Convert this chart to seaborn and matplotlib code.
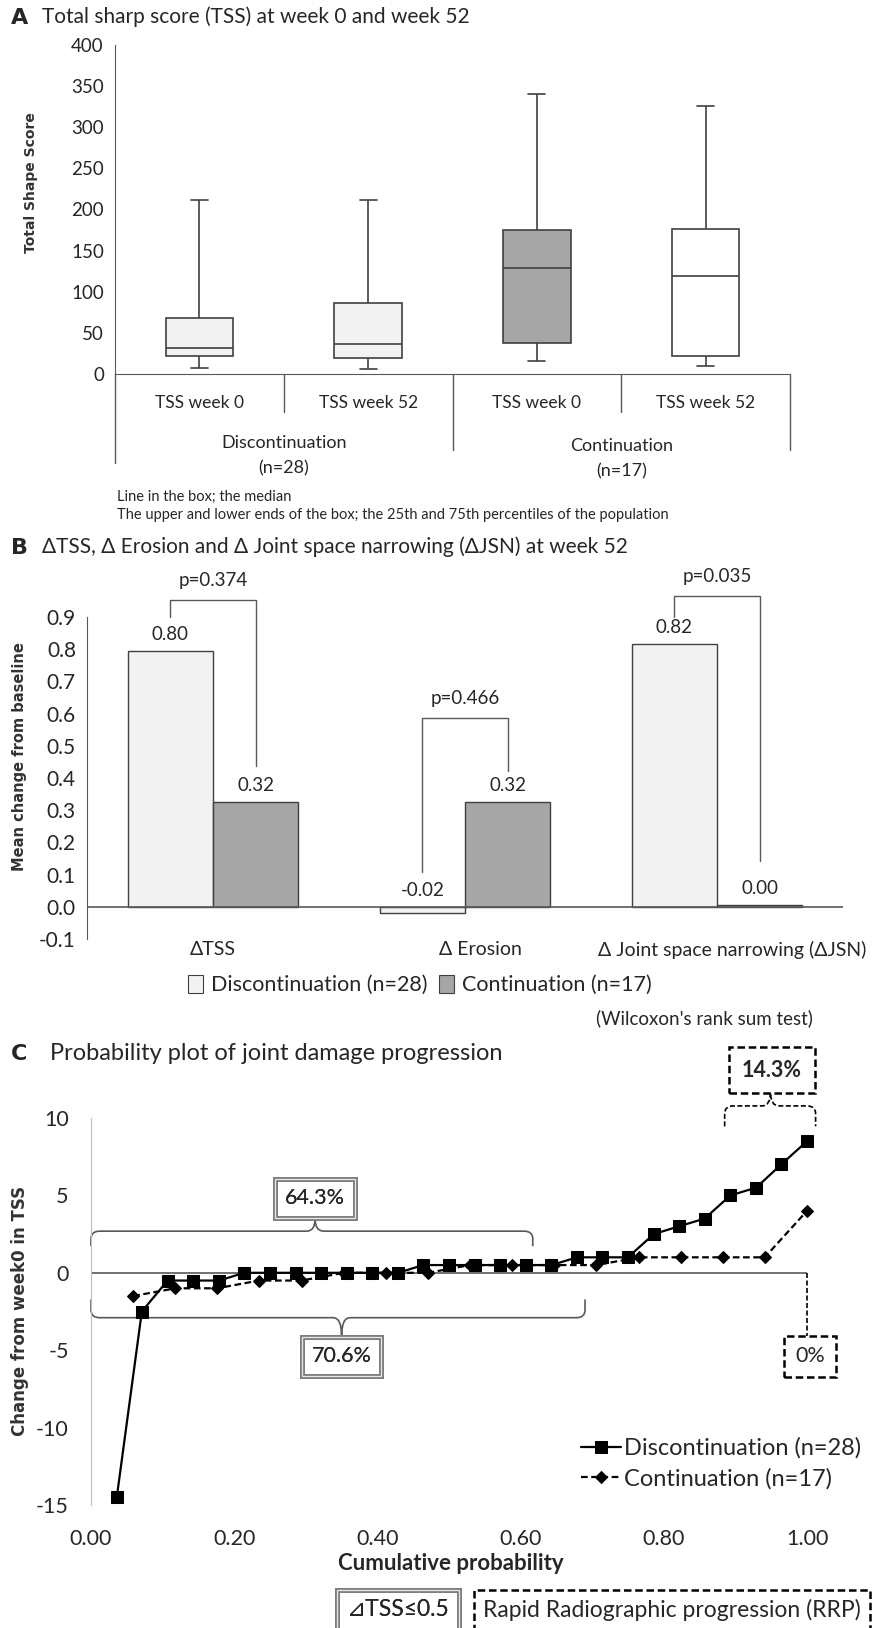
import matplotlib
matplotlib.use('Agg')
import matplotlib.pyplot as plt
import matplotlib.transforms as mtransforms
from matplotlib.patches import Patch, PathPatch
from matplotlib.path import Path
import seaborn as sns
import numpy as np
import pandas as pd

# ---- panel A: box plot statistics
tss_ids = ['disc_w0', 'disc_w52', 'cont_w0', 'cont_w52']
tss_labels = ['TSS week 0', 'TSS week 52', 'TSS week 0', 'TSS week 52']
tss_low = [7, 6, 16, 10]
tss_q1 = [22, 19, 38, 22]
tss_median = [32, 36, 129, 119]
tss_q3 = [68, 86, 175, 176]
tss_high = [211, 211, 341, 326]
arm_names = ['Discontinuation', 'Continuation']
arm_n = ['(n=28)', '(n=17)']

# ---- panel B: mean change from baseline
measures = ['ΔTSS', 'Δ Erosion', 'Δ Joint space narrowing (ΔJSN)']
disc_change = [0.795, -0.018, 0.815]
cont_change = [0.325, 0.325, 0.006]
disc_text = ['0.80', '-0.02', '0.82']
cont_text = ['0.32', '0.32', '0.00']
p_values = ['p=0.374', 'p=0.466', 'p=0.035']

# ---- panel C: probability plot
disc_prob = [0.036, 0.071, 0.107, 0.143, 0.179, 0.214, 0.250, 0.286, 0.321, 0.357,
             0.393, 0.429, 0.464, 0.500, 0.536, 0.571, 0.607, 0.643, 0.679, 0.714,
             0.750, 0.786, 0.821, 0.857, 0.893, 0.929, 0.964, 1.000]
disc_tss = [-14.5, -2.5, -0.5, -0.5, -0.5, 0, 0, 0, 0, 0, 0, 0, 0.5, 0.5,
            0.5, 0.5, 0.5, 0.5, 1, 1, 1, 2.5, 3, 3.5, 5, 5.5, 7, 8.5]
cont_prob = [0.059, 0.118, 0.176, 0.235, 0.294, 0.353, 0.412, 0.471, 0.529,
             0.588, 0.647, 0.706, 0.765, 0.824, 0.882, 0.941, 1.000]
cont_tss = [-1.5, -1, -1, -0.5, -0.5, 0, 0, 0, 0.5, 0.5, 0.5, 0.5, 1, 1, 1, 1, 4]

sns.set_style('white')
plt.rcParams['font.family'] = ['Lato', 'DejaVu Sans']
plt.rcParams['axes.unicode_minus'] = False

W, H = 873, 1628
fig = plt.figure(figsize=(W / 100, H / 100), dpi=100)


def px_box(left, top, right, bottom):
    return [left / W, 1 - bottom / H, (right - left) / W, (bottom - top) / H]


def fy(y):
    return 1 - y / H


AX_COL = '#595959'
DARK = '#404040'
VERD = ['DejaVu Sans']

# ================= A =================
ax_a = fig.add_axes(px_box(115, 45, 790, 374))
df_a = pd.DataFrame({
    'group': np.repeat(tss_ids, 5),
    'tss': np.column_stack([tss_low, tss_q1, tss_median, tss_q3, tss_high]).ravel(),
})
sns.boxplot(data=df_a, x='group', y='tss', hue='group',
            palette=['#f2f2f2', '#f2f2f2', '#a6a6a6', '#ffffff'],
            whis=(0, 100), width=0.4, linecolor=DARK, linewidth=1.2,
            saturation=1, legend=False, ax=ax_a, capwidths=0.1)
ax_a.set_xlim(-0.5, 3.5)
ax_a.set_ylim(0, 400)
ax_a.set_yticks(range(0, 401, 50))
ax_a.set_xticks([])
ax_a.set_xlabel('')
ax_a.set_ylabel('')
for s in ['top', 'right']:
    ax_a.spines[s].set_visible(False)
for s in ['left', 'bottom']:
    ax_a.spines[s].set_color(AX_COL)
ax_a.tick_params(axis='y', direction='out', length=5, color=AX_COL, labelsize=13.5, pad=3)

trans_a = mtransforms.blended_transform_factory(ax_a.transData, ax_a.transAxes)
h_a = 374 - 45
sep_bottom = [463, 412, 450, 412, 450]
for x, b in zip([-0.5, 0.5, 1.5, 2.5, 3.5], sep_bottom):
    ax_a.plot([x, x], [0, (374 - b) / h_a], transform=trans_a, color=AX_COL,
              lw=1, clip_on=False)
for i, lab in enumerate(tss_labels):
    ax_a.text(i, (374 - 403) / h_a, lab, transform=trans_a, ha='center',
              va='center', fontsize=12.5)
for j, (name, n) in enumerate(zip(arm_names, arm_n)):
    xc = 0.5 + 2 * j
    ax_a.text(xc, (374 - 443 - 3 * j) / h_a, name, transform=trans_a,
              ha='center', va='center', fontsize=13)
    ax_a.text(xc, (374 - 468 - 3 * j) / h_a, n, transform=trans_a,
              ha='center', va='center', fontsize=13)

fig.text(31 / W, fy(183), 'Total Shape Score', rotation=90, ha='center',
         va='center', family=VERD, fontweight='bold', fontsize=10, color='#333333')
fig.text(117 / W, fy(497), 'Line in the box; the median', fontsize=10.5, va='center')
fig.text(117 / W, fy(515), 'The upper and lower ends of the box; the 25th and 75th '
         'percentiles of the population', fontsize=10.5, va='center')
fig.text(11 / W, fy(18), 'A', fontsize=16, fontweight='bold', va='center', family=VERD)
fig.text(42 / W, fy(17), 'Total sharp score (TSS) at week 0 and week 52',
         fontsize=15, va='center')

# ================= B =================
ax_b = fig.add_axes(px_box(87, 617, 843, 939))
df_b = pd.DataFrame({
    'measure': measures * 2,
    'group': ['Discontinuation (n=28)'] * 3 + ['Continuation (n=17)'] * 3,
    'change': disc_change + cont_change,
})
sns.barplot(data=df_b, x='measure', y='change', hue='group',
            palette=['#f2f2f2', '#a6a6a6'], edgecolor=DARK, linewidth=1,
            width=0.675, saturation=1, errorbar=None, legend=False, ax=ax_b)
ax_b.set_xlim(-0.5, 2.5)
ax_b.set_ylim(-0.1, 0.9)
ax_b.set_yticks(np.round(np.arange(-0.1, 0.91, 0.1), 1))
ax_b.set_yticklabels(['%.1f' % v for v in np.arange(-0.1, 0.91, 0.1)])
ax_b.set_xticks([])
ax_b.set_xlabel('')
ax_b.set_ylabel('')
for s in ['top', 'right', 'bottom']:
    ax_b.spines[s].set_visible(False)
ax_b.spines['left'].set_color(AX_COL)
ax_b.axhline(0, color=AX_COL, lw=1.2, zorder=3)
ax_b.tick_params(axis='y', direction='out', length=5, color=AX_COL, labelsize=15, pad=3)

for cont, texts in zip(ax_b.containers, [disc_text, cont_text]):
    for patch, t in zip(cont, texts):
        xc = patch.get_x() + patch.get_width() / 2
        ax_b.text(xc, max(patch.get_height(), 0) + 0.025, t, ha='center',
                  va='bottom', fontsize=13.5)

bar_half = 0.675 / 4
bracket_top = [0.953, 0.586, 0.965]
bracket_left = [0.9, 0.108, 0.9]
bracket_right = [0.437, 0.422, 0.142]
for i, p in enumerate(p_values):
    xl, xr = i - bar_half, i + bar_half
    ax_b.plot([xl, xl, xr, xr],
              [bracket_left[i], bracket_top[i], bracket_top[i], bracket_right[i]],
              color=AX_COL, lw=1, clip_on=False)
    ax_b.text(i, bracket_top[i] + 0.035, p, ha='center', va='bottom', fontsize=13.5)

label_shift = [0, 0.06, 0.06]
for i, m in enumerate(measures):
    ax_b.text(i + label_shift[i], -0.134, m, ha='center', va='center', fontsize=14,
              clip_on=False)

fig.text(20 / W, fy(757), 'Mean change from baseline', rotation=90, ha='center',
         va='center', family=VERD, fontweight='bold', fontsize=10.5, color='#333333')
handles_b = [Patch(fc='#f2f2f2', ec=DARK, lw=0.8), Patch(fc='#a6a6a6', ec=DARK, lw=0.8)]
fig.legend(handles_b, ['Discontinuation (n=28)', 'Continuation (n=17)'], loc='center',
           bbox_to_anchor=(420 / W, fy(985)), ncol=2, frameon=False, fontsize=15.5,
           handlelength=0.7, handleheight=0.9, columnspacing=0.5, handletextpad=0.4)
fig.text(813 / W, fy(1018), "(Wilcoxon's rank sum test)", ha='right', va='center',
         fontsize=13.5)
fig.text(11 / W, fy(548), 'B', fontsize=16, fontweight='bold', va='center', family=VERD)
fig.text(42 / W, fy(547), 'ΔTSS, Δ Erosion and Δ Joint space narrowing (ΔJSN) at week 52',
         fontsize=15, va='center')

# ================= C =================
ax_c = fig.add_axes(px_box(91, 1118, 807, 1505))
ax_c.axhline(0, color=AX_COL, lw=1.2, zorder=1)
sns.lineplot(x=disc_prob, y=disc_tss, ax=ax_c, color='black', lw=1.6, marker='s',
             markersize=9, markeredgecolor='black', label='Discontinuation (n=28)',
             clip_on=False, zorder=4)
sns.lineplot(x=cont_prob, y=cont_tss, ax=ax_c, color='black', lw=1.6,
             linestyle=(0, (3, 1.6)), marker='D', markersize=6, markeredgecolor='black',
             label='Continuation (n=17)', clip_on=False, zorder=3)
ax_c.set_xlim(0, 1)
ax_c.set_ylim(-15, 10)
ax_c.set_yticks([-15, -10, -5, 0, 5, 10])
ax_c.set_xticks(np.round(np.arange(0, 1.01, 0.2), 1))
ax_c.set_xticklabels(['%.2f' % v for v in np.arange(0, 1.01, 0.2)])
for s in ['top', 'right', 'bottom']:
    ax_c.spines[s].set_visible(False)
ax_c.spines['left'].set_color('#bfbfbf')
ax_c.tick_params(axis='both', length=0, labelsize=15.5)
ax_c.tick_params(axis='y', pad=16)
ax_c.tick_params(axis='x', pad=17)
ax_c.set_xlabel('')
ax_c.set_ylabel('')
ax_c.legend(loc='upper left', bbox_to_anchor=(560 / W, fy(1416)),
            bbox_transform=fig.transFigure, frameon=False, fontsize=17,
            handlelength=1.7, handletextpad=0.1, labelspacing=0.4)


def draw_brace(ax, x0, x1, xm, y_line, y_hook, y_tip, rx, ry, **kw):
    s = np.sign(y_hook - y_line)
    verts = [(x0, y_hook), (x0, y_line + s * ry),
             (x0, y_line), (x0 + rx, y_line),
             (xm - rx, y_line),
             (xm, y_line), (xm, y_tip),
             (xm, y_line), (xm + rx, y_line),
             (x1 - rx, y_line),
             (x1, y_line), (x1, y_line + s * ry),
             (x1, y_hook)]
    codes = [Path.MOVETO, Path.LINETO, Path.CURVE3, Path.CURVE3, Path.LINETO,
             Path.CURVE3, Path.CURVE3, Path.CURVE3, Path.CURVE3, Path.LINETO,
             Path.CURVE3, Path.CURVE3, Path.LINETO]
    ax.add_patch(PathPatch(Path(verts, codes), fill=False, clip_on=False, **kw))


def gray_box(target, x, y, txt, transform, pad=0.45, size=15.5, **kw):
    # thick grey frame with a light line through it, like a double border
    for ec, lw, fc in [('#7f7f7f', 3.6, 'white'), ('#e8e8e8', 0.9, 'none')]:
        target.text(x, y, txt, transform=transform, ha='center', va='center',
                    fontsize=size, clip_on=False, zorder=6,
                    bbox=dict(boxstyle='square,pad=%s' % pad, fc=fc, ec=ec, lw=lw),
                    **kw)


def dash_box(target, x, y, txt, transform, pad=0.45, size=15.5, **kw):
    target.text(x, y, txt, transform=transform, ha='center', va='center',
                fontsize=size, clip_on=False, zorder=6,
                bbox=dict(boxstyle='square,pad=%s' % pad, fc='white', ec='black',
                          lw=1.8, ls=(0, (3, 1.5))), **kw)


draw_brace(ax_c, 0.0, 0.617, 0.313, 2.69, 1.72, 3.48, 0.012, 0.5, ec=AX_COL, lw=1.2)
draw_brace(ax_c, 0.0, 0.69, 0.35, -2.9, -1.72, -4.07, 0.012, 0.5, ec=AX_COL, lw=1.2)
draw_brace(ax_c, 0.885, 1.012, 0.949, 10.78, 9.46, 11.66, 0.012, 0.5, ec='black',
           lw=1.2, ls=(0, (3, 1.5)))
ax_c.plot([1.0, 1.0], [0, -4.07], color='black', lw=1.2, ls=(0, (3, 1.5)),
          clip_on=False, zorder=2)
gray_box(ax_c, 0.313, 4.8, '64.3%', ax_c.transData)
gray_box(ax_c, 0.35, -5.4, '70.6%', ax_c.transData)
dash_box(ax_c, 0.951, 13.1, '14.3%', ax_c.transData, pad=0.6, fontweight='bold')
dash_box(ax_c, 1.004, -5.4, '0%', ax_c.transData, pad=0.5)

fig.text(20 / W, fy(1311), 'Change from week0 in TSS', rotation=90, ha='center',
         va='center', family=VERD, fontweight='bold', fontsize=12, color='#333333')
fig.text(451 / W, fy(1563), 'Cumulative probability', ha='center', va='center',
         fontsize=16, fontweight='bold')
gray_box(fig, 398 / W, fy(1610), '⊿TSS≤0.5', fig.transFigure, pad=0.4, size=16.5)
dash_box(fig, 672 / W, fy(1610), 'Rapid Radiographic progression (RRP)', fig.transFigure,
         pad=0.4, size=16.5)
fig.text(11 / W, fy(1054), 'C', fontsize=16, fontweight='bold', va='center', family=VERD)
fig.text(50 / W, fy(1053), 'Probability plot of joint damage progression',
         fontsize=17, va='center')

fig.savefig('out.png', dpi=100)
